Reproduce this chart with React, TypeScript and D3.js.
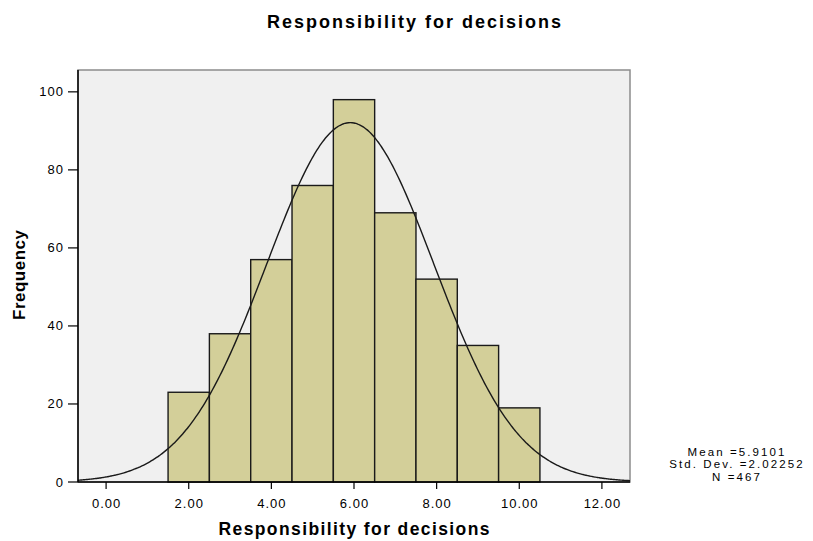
import React from "react";
import * as d3 from "d3";

const binCenters = [2, 3, 4, 5, 6, 7, 8, 9, 10];
const frequencies = [23, 38, 57, 76, 98, 69, 52, 35, 19];
const yTicks = [0, 20, 40, 60, 80, 100];
const xTicks = [0, 2, 4, 6, 8, 10, 12];
const stats = { mean: 5.9101, sd: 2.02252, n: 467 };
const statLines = ["Mean =5.9101", "Std. Dev. =2.02252", "N =467"];

const W = 813, H = 541;
const L = 78, R = 630, T = 70, B = 482;

export default function App() {
  const x = d3.scaleLinear().domain([-0.68, 12.68]).range([L, R]);
  const y = d3.scaleLinear().domain([0, 105.6]).range([B, T]);
  const binW = 1;
  const pts: [number, number][] = [];
  for (let i = 0; i <= 300; i++) {
    const v = -0.68 + (13.36 * i) / 300;
    const z = (v - stats.mean) / stats.sd;
    const dens = (stats.n * binW) / (stats.sd * Math.sqrt(2 * Math.PI)) * Math.exp(-0.5 * z * z);
    pts.push([v, dens]);
  }
  const line = d3.line<[number, number]>().x(d => x(d[0])).y(d => y(d[1])).curve(d3.curveBasis);
  const font = "Arial, 'Liberation Sans', sans-serif";
  return (
    <svg width={W} height={H} style={{ position: "absolute", left: 0, top: 0 }} fontFamily={font}>
      <rect x={0} y={0} width={W} height={H} fill="#fff" />
      <text x={414} y={28} textAnchor="middle" fontSize={18} fontWeight="bold" textLength={294} lengthAdjust="spacing">Responsibility for decisions</text>
      <rect x={L} y={T} width={R - L} height={B - T} fill="#f0f0f0" stroke="#8c8c8c" strokeWidth={1.5} />
      {binCenters.map((c, i) => (
        <rect key={i} x={x(c - binW / 2)} y={y(frequencies[i])} width={x(c + binW / 2) - x(c - binW / 2)} height={B - y(frequencies[i])}
          fill="#d3cf99" stroke="#1a1a1a" strokeWidth={1.4} />
      ))}
      <path d={line(pts) || ""} fill="none" stroke="#1a1a1a" strokeWidth={1.4} />
      <line x1={L} x2={L} y1={T} y2={B} stroke="#000" strokeWidth={1.5} />
      <line x1={L} x2={R} y1={B} y2={B} stroke="#000" strokeWidth={1.5} />
      {yTicks.map(t => (
        <g key={t}>
          <line x1={L - 10} x2={L} y1={y(t)} y2={y(t)} stroke="#000" strokeWidth={1.2} />
          <text x={L - 14} y={y(t) + 4.5} textAnchor="end" fontSize={13} letterSpacing={1}>{t}</text>
        </g>
      ))}
      {xTicks.map(t => (
        <g key={t}>
          <line x1={x(t)} x2={x(t)} y1={B} y2={B + 7} stroke="#000" strokeWidth={1.2} />
          <text x={x(t) + 0.5} y={B + 26} textAnchor="middle" fontSize={13} letterSpacing={1}>{t.toFixed(2)}</text>
        </g>
      ))}
      <text x={354} y={535} textAnchor="middle" fontSize={17.5} fontWeight="bold" textLength={271} lengthAdjust="spacing">Responsibility for decisions</text>
      <text transform={`translate(25,${275}) rotate(-90)`} textAnchor="middle" fontSize={17} fontWeight="bold" textLength={90} lengthAdjust="spacing">Frequency</text>
      {statLines.map((s, i) => (
        <text key={i} x={737} y={456 + i * 12.4} textAnchor="middle" fontSize={11.5} letterSpacing={2.1}>{s}</text>
      ))}
    </svg>
  );
}
